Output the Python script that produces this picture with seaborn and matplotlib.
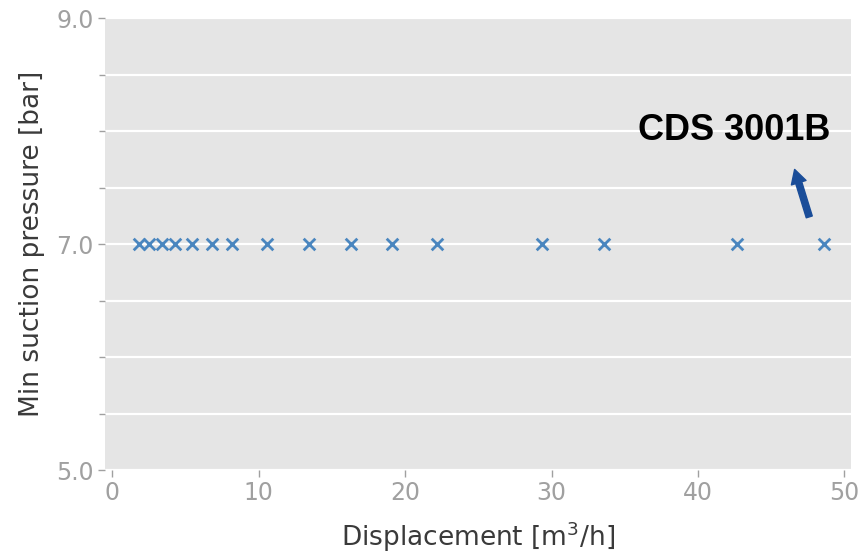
import matplotlib
matplotlib.use("Agg")
import matplotlib.pyplot as plt
from matplotlib.ticker import MultipleLocator
import seaborn as sns
import pandas as pd

# Compressor models: displacement vs. minimum suction pressure
displacement = [1.85, 2.5, 3.4, 4.25, 5.45, 6.8, 8.2, 10.55, 13.45, 16.3, 19.1, 22.15,
                29.35, 33.55, 42.65, 48.6]
min_suction = [7.0] * len(displacement)
x_ticks = [0, 10, 20, 30, 40, 50]
y_ticks = [5.0, 7.0, 9.0]
label_text = "CDS 3001B"

df = pd.DataFrame({"Displacement": displacement, "MinSuction": min_suction})

sns.set_style("darkgrid", {
    "axes.facecolor": "#e5e5e5",
    "grid.color": "white",
    "axes.edgecolor": "#e5e5e5",
})
plt.rcParams["font.family"] = ["DejaVu Sans"]

fig = plt.figure(figsize=(8.59, 5.52), dpi=100)
ax = fig.add_axes([105 / 859, 82 / 552, 746 / 859, 452 / 552])

sns.scatterplot(data=df, x="Displacement", y="MinSuction", marker="x",
                color="#4a86bf", s=70, linewidth=2.0, ax=ax, zorder=3)

ax.set_xlim(-0.5, 50.45)
ax.set_ylim(5.0, 9.0)
ax.set_xticks(x_ticks)
ax.set_yticks(y_ticks)
ax.set_yticklabels([f"{v:.1f}" for v in y_ticks])
ax.yaxis.set_minor_locator(MultipleLocator(0.5))
ax.grid(False, axis="x")
ax.grid(True, axis="y", which="both", color="white", linewidth=1.6)

ax.tick_params(axis="both", which="major", colors="#a0a0a0", labelsize=17,
               length=5, width=1, pad=3, left=True, bottom=True)
ax.tick_params(axis="y", which="minor", colors="#a0a0a0", length=4, width=1, left=True)
for sp in ax.spines.values():
    sp.set_visible(False)

ax.set_xlabel("Displacement [m$^3$/h]", fontsize=19, color="#3a3a3a", labelpad=10)
ax.set_ylabel("Min suction pressure [bar]", fontsize=19, color="#3a3a3a", labelpad=8)

ax.text(42.5, 8.0, label_text, fontsize=26, fontweight="bold", fontstretch="normal",
        color="black", family="Liberation Sans", ha="center", va="center")
ax.annotate("", xy=(46.6, 7.66), xytext=(47.6, 7.24),
            arrowprops=dict(arrowstyle="simple,head_width=1.1,head_length=1.0,tail_width=0.45",
                            color="#1a4d99", shrinkA=0, shrinkB=0))

fig.savefig("out.png", dpi=100)
